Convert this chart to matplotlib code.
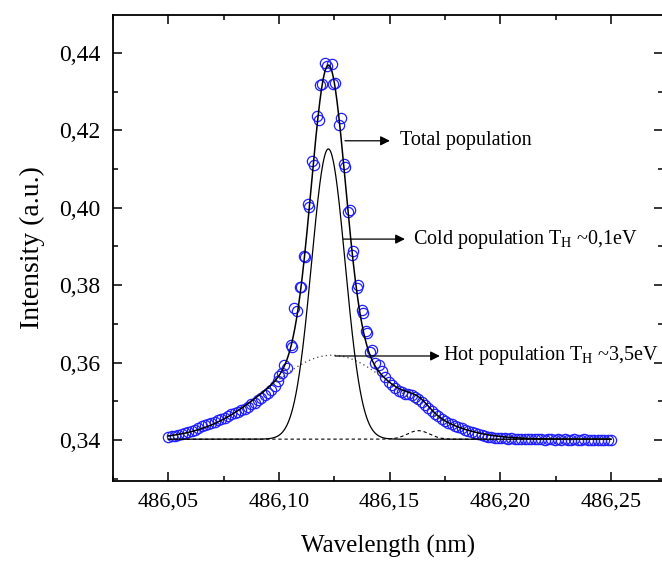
import numpy as np
import matplotlib
matplotlib.use('Agg')
import matplotlib.pyplot as plt
from matplotlib.ticker import MultipleLocator, FuncFormatter

plt.rcParams['font.family'] = ['Liberation Serif', 'DejaVu Serif']
plt.rcParams['mathtext.fontset'] = 'custom'
plt.rcParams['mathtext.rm'] = 'Liberation Serif'
plt.rcParams['mathtext.it'] = 'Liberation Serif:italic'

wl_left = [486.0500, 486.0515, 486.0530, 486.0545, 486.0560, 486.0575, 486.0590, 486.0605,
           486.0620, 486.0635, 486.0650, 486.0665, 486.0680, 486.0695, 486.0710, 486.0725,
           486.0740, 486.0755, 486.0770, 486.0785, 486.0800, 486.0815, 486.0830, 486.0845,
           486.0860, 486.0875, 486.0890, 486.0905, 486.0920, 486.0935, 486.0950, 486.0965,
           486.0980, 486.0995]
int_left = [0.3408, 0.3410, 0.3411, 0.3413, 0.3415, 0.3418, 0.3420, 0.3423,
            0.3427, 0.3431, 0.3435, 0.3438, 0.3441, 0.3444, 0.3447, 0.3451,
            0.3455, 0.3458, 0.3462, 0.3466, 0.3470, 0.3473, 0.3477, 0.3481,
            0.3486, 0.3492, 0.3496, 0.3502, 0.3508, 0.3515, 0.3522, 0.3530,
            0.3540, 0.3552]

wl_peak = [486.1000, 486.1012, 486.1024, 486.1035, 486.1054, 486.1057, 486.1069, 486.1080,
           486.1095, 486.1099, 486.1113, 486.1117, 486.1131, 486.1137, 486.1150, 486.1159,
           486.1170, 486.1181, 486.1185, 486.1193, 486.1208, 486.1216, 486.1238, 486.1245,
           486.1253, 486.1270, 486.1279, 486.1295, 486.1299, 486.1313, 486.1321, 486.1331,
           486.1336, 486.1351, 486.1358, 486.1374, 486.1378, 486.1392, 486.1396, 486.1411,
           486.1419, 486.1434]
int_peak = [0.3564, 0.3572, 0.3594, 0.3585, 0.3645, 0.3641, 0.3740, 0.3732,
            0.3796, 0.3795, 0.3875, 0.3874, 0.4010, 0.4003, 0.4122, 0.4111,
            0.4237, 0.4227, 0.4317, 0.4319, 0.4373, 0.4365, 0.4371, 0.4320,
            0.4323, 0.4213, 0.4232, 0.4113, 0.4105, 0.3990, 0.3994, 0.3878,
            0.3887, 0.3792, 0.3801, 0.3736, 0.3727, 0.3682, 0.3677, 0.3628,
            0.3633, 0.3598]

wl_right = [486.1450, 486.1465, 486.1480, 486.1495, 486.1510, 486.1525, 486.1540, 486.1555,
            486.1570, 486.1585, 486.1600, 486.1615, 486.1630, 486.1645, 486.1660, 486.1675,
            486.1690, 486.1705, 486.1720, 486.1735, 486.1750, 486.1765, 486.1780, 486.1795,
            486.1810, 486.1825, 486.1840, 486.1855, 486.1870, 486.1885, 486.1900, 486.1915,
            486.1930, 486.1945, 486.1960, 486.1975, 486.1990, 486.2005, 486.2020, 486.2035,
            486.2050, 486.2065, 486.2080, 486.2095, 486.2110, 486.2125, 486.2140, 486.2155,
            486.2170, 486.2185, 486.2200, 486.2215, 486.2230, 486.2245, 486.2260, 486.2275,
            486.2290, 486.2305, 486.2320, 486.2335, 486.2350, 486.2365, 486.2380, 486.2395,
            486.2410, 486.2425, 486.2440, 486.2455, 486.2470, 486.2485, 486.2500]
int_right = [0.3595, 0.3578, 0.3562, 0.3550, 0.3541, 0.3533, 0.3527, 0.3523,
             0.3520, 0.3518, 0.3515, 0.3511, 0.3505, 0.3498, 0.3490, 0.3482,
             0.3475, 0.3468, 0.3461, 0.3455, 0.3450, 0.3445, 0.3440, 0.3436,
             0.3433, 0.3430, 0.3427, 0.3424, 0.3421, 0.3418, 0.3415, 0.3412,
             0.3410, 0.3408, 0.3407, 0.3406, 0.3405, 0.3404, 0.3404, 0.3403,
             0.3404, 0.3403, 0.3402, 0.3403, 0.3402, 0.3403, 0.3402, 0.3402,
             0.3403, 0.3402, 0.3401, 0.3402, 0.3402, 0.3401, 0.3402, 0.3401,
             0.3402, 0.3401, 0.3401, 0.3402, 0.3401, 0.3401, 0.3402, 0.3401,
             0.3401, 0.3400, 0.3401, 0.3401, 0.3400, 0.3401, 0.3400]

baseline = 0.3402
cold_center, cold_height, cold_sigma = 486.1223, 0.0750, 0.0076
hot_center, hot_height, hot_sigma = 486.1240, 0.0217, 0.0290
bump_center, bump_height, bump_sigma = 486.1630, 0.0022, 0.0050

wl_fit = np.linspace(486.05, 486.25, 1201)
cold = cold_height * np.exp(-(wl_fit - cold_center)**2 / (2 * cold_sigma**2))
hot = hot_height * np.exp(-(wl_fit - hot_center)**2 / (2 * hot_sigma**2))
bump = bump_height * np.exp(-(wl_fit - bump_center)**2 / (2 * bump_sigma**2))
total = baseline + cold + hot + bump

wl = wl_left + wl_peak + wl_right
inten = int_left + int_peak + int_right

fig = plt.figure(figsize=(6.62, 5.63), dpi=100)
ax = fig.add_axes([113/662, (563-481)/563, (663-113)/662, (481-15)/563])

ax.plot(wl, inten, 'o', ms=7.4, mfc='none', mec='#2020ff', mew=0.9, zorder=2)
ax.plot(wl_fit, baseline + bump, color='black', lw=0.8, ls=(0, (3, 2.5)), zorder=3)
ax.plot(wl_fit, baseline + hot, color='#444444', lw=0.9, ls=(0, (1, 2.5)), zorder=3)
ax.plot(wl_fit, baseline + cold, color='black', lw=0.9, zorder=3)
ax.plot(wl_fit, total, color='black', lw=1.1, zorder=4)

ax.set_xlim(486.025, 486.2735)
ax.set_ylim(0.3294, 0.4498)

ax.xaxis.set_major_locator(MultipleLocator(0.05))
ax.xaxis.set_minor_locator(MultipleLocator(0.025))
ax.yaxis.set_major_locator(MultipleLocator(0.02))
ax.yaxis.set_minor_locator(MultipleLocator(0.01))
ax.xaxis.set_major_formatter(FuncFormatter(lambda v, p: f'{v:.2f}'.replace('.', ',')))
ax.yaxis.set_major_formatter(FuncFormatter(lambda v, p: f'{v:.2f}'.replace('.', ',')))
ax.tick_params(which='both', direction='in', top=True, right=True, width=1.1)
ax.tick_params(axis='x', labelsize=16, pad=8)
ax.tick_params(axis='y', labelsize=17, pad=9)
ax.tick_params(which='major', length=6.5)
ax.tick_params(which='minor', length=3.5)
for s in ax.spines.values():
    s.set_linewidth(1.3)

ax.set_xlabel('Wavelength (nm)', fontsize=18, labelpad=17)
ax.set_ylabel('Intensity (a.u.)', fontsize=20, labelpad=10)

arrow = dict(arrowstyle='-|>', color='black', lw=0.9, mutation_scale=14, shrinkA=0, shrinkB=0)
ax.annotate('', xy=(486.1501, 0.4173), xytext=(486.1298, 0.4173), arrowprops=arrow)
ax.text(486.1546, 0.4173, 'Total population', fontsize=14.5, va='center')
ax.annotate('', xy=(486.1569, 0.3919), xytext=(486.1290, 0.3919), arrowprops=arrow)
ax.text(486.1605, 0.3919, 'Cold population T$_{\\mathrm{H}}$ ~0,1eV', fontsize=14.5, va='center')
ax.annotate('', xy=(486.1727, 0.3617), xytext=(486.1253, 0.3617), arrowprops=arrow)
ax.text(486.1741, 0.3617, 'Hot population T$_{\\mathrm{H}}$ ~3,5eV', fontsize=14.5, va='center')

fig.savefig('out.png', dpi=100)
